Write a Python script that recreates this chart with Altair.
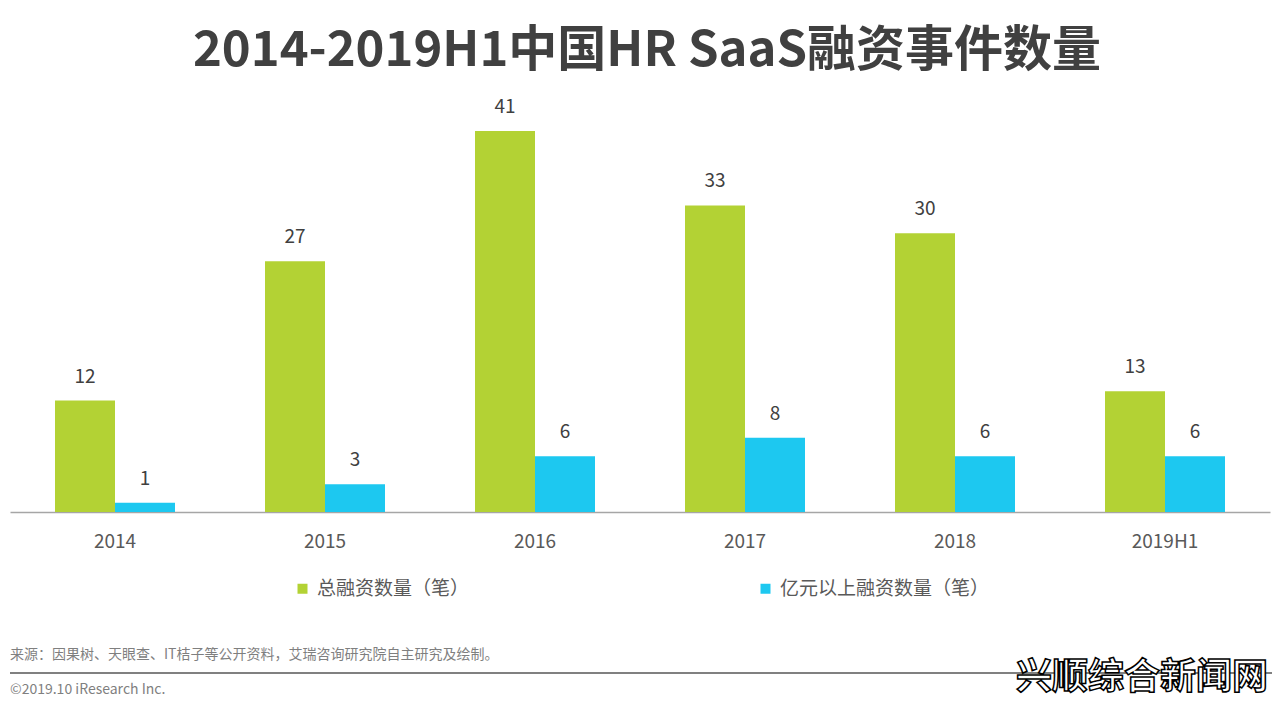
import altair as alt
import pandas as pd

years = ["2014", "2015", "2016", "2017", "2018", "2019H1"]
total_deals = [12, 27, 41, 33, 30, 13]
big_deals = [1, 3, 6, 8, 6, 6]
series_names = ["总融资数量（笔）", "亿元以上融资数量（笔）"]
colors = ["#B3D234", "#1DC8F0"]

title_text = "2014-2019H1中国HR SaaS融资事件数量"
source_text = "来源：因果树、天眼查、IT桔子等公开资料，艾瑞咨询研究院自主研究及绘制。"
copyright_text = "©2019.10 iResearch Inc."
watermark_text = "兴顺综合新闻网"

rows = []
for i, y in enumerate(years):
    rows.append({"year": y, "series": series_names[0], "value": total_deals[i]})
    rows.append({"year": y, "series": series_names[1], "value": big_deals[i]})
df = pd.DataFrame(rows)

FONT = "Noto Sans CJK SC"
W, H = 1260, 412

x_enc = alt.X("year:N", sort=years, title=None,
              scale=alt.Scale(paddingInner=0, paddingOuter=0),
              axis=alt.Axis(labelAngle=0, labelFontSize=19, labelColor="#595959",
                            labelFont=FONT, labelPadding=20, ticks=False,
                            domainColor="#A6A6A6", domainWidth=1.5, grid=False))
xoff = alt.XOffset("series:N", sort=series_names,
                   scale=alt.Scale(paddingInner=0, paddingOuter=0.75))
y_enc = alt.Y("value:Q", scale=alt.Scale(domain=[0, 44.35], nice=False), axis=None)

base = alt.Chart(df)

bars = base.mark_bar().encode(
    x=x_enc, xOffset=xoff, y=y_enc,
    color=alt.Color("series:N", sort=series_names,
                    scale=alt.Scale(domain=series_names, range=colors),
                    legend=alt.Legend(title=None, orient="none", legendX=283, legendY=479,
                                      direction="horizontal", columns=2,
                                      columnPadding=286, symbolType="square",
                                      symbolSize=100, symbolStrokeWidth=0,
                                      labelFontSize=19, labelColor="#595959",
                                      labelFont=FONT, labelOffset=5, labelLimit=400)),
)

labels = base.mark_text(baseline="bottom", dy=-14, fontSize=19, color="#404040",
                        font=FONT).encode(
    x=alt.X("year:N", sort=years), xOffset=xoff, y=y_enc, text="value:Q")

one = pd.DataFrame({"k": [0]})

title = alt.Chart(one).mark_text(text=title_text, fontSize=49, fontWeight="bold",
                                 color="#404040", font=FONT, align="center",
                                 baseline="middle").encode(
    x=alt.value(637), y=alt.value(-49))

source = alt.Chart(one).mark_text(text=source_text, fontSize=14, color="#7F7F7F",
                                  font=FONT, align="left", baseline="middle").encode(
    x=alt.value(0), y=alt.value(555))

rule = alt.Chart(one).mark_rule(color="#808080", strokeWidth=2).encode(
    x=alt.value(0), x2=alt.value(1270), y=alt.value(573))

copyright_ = alt.Chart(one).mark_text(text=copyright_text, fontSize=14, color="#7F7F7F",
                                      font=FONT, align="left", baseline="middle").encode(
    x=alt.value(0), y=alt.value(590))

watermark = alt.Chart(one).mark_text(text=watermark_text, fontSize=36, fontWeight="bold",
                                     color="#FFFFFF", stroke="#000000", strokeWidth=1.5,
                                     font=FONT, align="right", baseline="middle").encode(
    x=alt.value(1258), y=alt.value(578))

chart = alt.layer(bars, labels, title, source, rule, copyright_, watermark).properties(
    width=W, height=H,
    background="white",
    autosize=alt.AutoSizeParams(type="none"),
    padding={"left": 2, "top": 92, "right": 2, "bottom": 190},
).configure_view(stroke=None, strokeWidth=0)

chart.save("out.html", embed_options={"renderer": "svg", "actions": False})
